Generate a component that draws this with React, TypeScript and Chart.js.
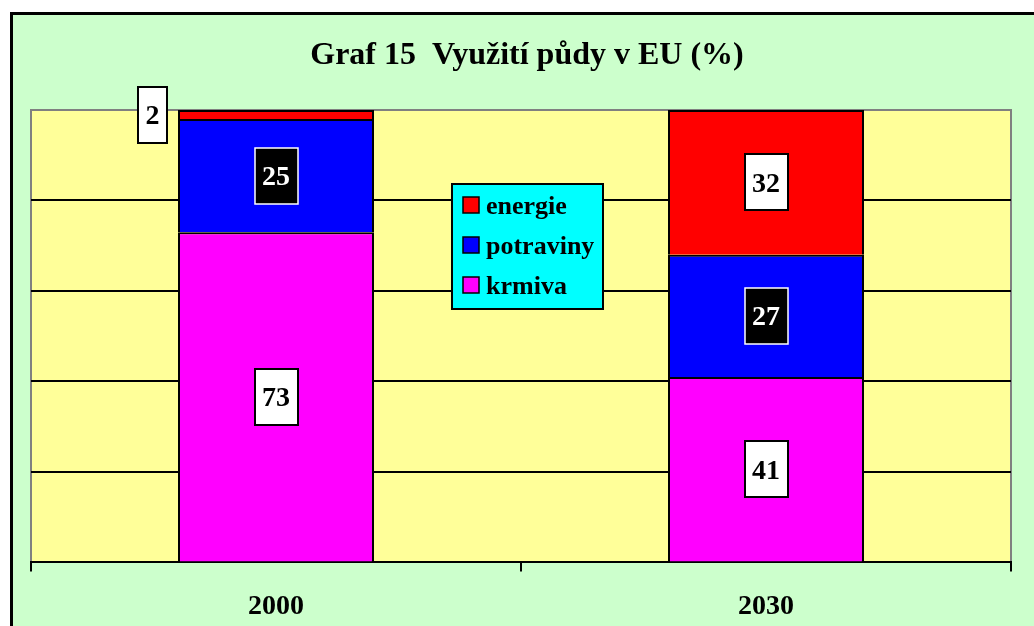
import React, { useEffect, useRef } from "react";
import { Chart, registerables } from "chart.js";

Chart.register(...registerables);

const categories = ["2000", "2030"];
const seriesNames = ["krmiva", "potraviny", "energie"];
const krmiva = [73, 41];
const potraviny = [25, 27];
const energie = [2, 32];
const yTicks = [0, 20, 40, 60, 80, 100];
const titleText = "Graf 15  Využití půdy v EU (%)";

const SERIF = "'Times New Roman', 'Liberation Serif', 'DejaVu Serif', serif";
const seriesColors = ["#FF00FF", "#0000FF", "#FF0000"];
// label box style per series: [fill, stroke, text]
const labelStyles = [
  ["#FFFFFF", "#000000", "#000000"],
  ["#000000", "#FFFFFF", "#FFFFFF"],
  ["#FFFFFF", "#000000", "#000000"],
];

const backgroundPlugin = {
  id: "bgPlugin",
  beforeDraw(chart: any) {
    const ctx = chart.ctx;
    const { width, height } = chart;
    const a = chart.chartArea;
    ctx.save();
    ctx.fillStyle = "#FFFFFF";
    ctx.fillRect(0, 0, width, height);
    ctx.fillStyle = "#000000";
    ctx.fillRect(10, 12, width, height);
    ctx.fillStyle = "#CCFFCC";
    ctx.fillRect(13, 15, width, height);
    ctx.fillStyle = "#FFFF99";
    ctx.fillRect(a.left, a.top, a.right - a.left, a.bottom - a.top);
    ctx.strokeStyle = "#808080";
    ctx.lineWidth = 2;
    ctx.beginPath();
    ctx.moveTo(a.left, a.bottom);
    ctx.lineTo(a.left, a.top);
    ctx.lineTo(a.right, a.top);
    ctx.lineTo(a.right, a.bottom);
    ctx.stroke();
    // title
    ctx.fillStyle = "#000000";
    ctx.font = `bold 32px ${SERIF}`;
    ctx.textAlign = "center";
    ctx.textBaseline = "alphabetic";
    ctx.fillText(titleText, 527, 64);
    ctx.restore();
  },
};

const labelPlugin = {
  id: "labelPlugin",
  afterDatasetsDraw(chart: any) {
    const ctx = chart.ctx;
    ctx.save();
    const fontSize = 28;
    ctx.font = `bold ${fontSize}px ${SERIF}`;
    chart.data.datasets.forEach((ds: any, di: number) => {
      const meta = chart.getDatasetMeta(di);
      const st = labelStyles[di];
      meta.data.forEach((el: any, i: number) => {
        const v = ds.data[i];
        const { x, y, base, width } = el.getProps(["x", "y", "base", "width"], true);
        const cy = (y + base) / 2;
        const txt = String(v);
        const tw = ctx.measureText(txt).width;
        const bw = tw + 15;
        const bh = 56;
        let cx = x;
        if (Math.abs(base - y) < bh * 0.5) {
          cx = x - width / 2 - 11 - bw / 2;
        }
        const bx = Math.round(cx - bw / 2);
        const by = Math.round(cy - bh / 2);
        ctx.fillStyle = st[0];
        ctx.fillRect(bx, by, bw, bh);
        ctx.strokeStyle = st[1];
        ctx.lineWidth = di === 1 ? 1.5 : 2;
        ctx.strokeRect(bx, by, bw, bh);
        ctx.fillStyle = st[2];
        ctx.textAlign = "center";
        ctx.textBaseline = "alphabetic";
        ctx.fillText(txt, cx, cy + fontSize * 0.34);
      });
    });
    ctx.restore();
  },
};

const legendPlugin = {
  id: "customLegend",
  afterDraw(chart: any) {
    const ctx = chart.ctx;
    const a = chart.chartArea;
    const lx = a.left + 421;
    const ly = a.top + 74;
    const lw = 151;
    const lh = 125;
    ctx.save();
    ctx.fillStyle = "#00FFFF";
    ctx.fillRect(lx, ly, lw, lh);
    ctx.strokeStyle = "#000000";
    ctx.lineWidth = 2;
    ctx.strokeRect(lx, ly, lw, lh);
    const items = chart.data.datasets.map((d: any) => d).reverse();
    ctx.font = `bold 26px ${SERIF}`;
    ctx.textAlign = "left";
    ctx.textBaseline = "alphabetic";
    items.forEach((d: any, idx: number) => {
      const rowC = ly + 21 + idx * 40;
      ctx.fillStyle = d.backgroundColor;
      ctx.fillRect(lx + 11, rowC - 8, 16, 16);
      ctx.strokeStyle = "#000000";
      ctx.lineWidth = 1.5;
      ctx.strokeRect(lx + 11, rowC - 8, 16, 16);
      ctx.fillStyle = "#000000";
      ctx.fillText(d.label, lx + 34, rowC + 9);
    });
    ctx.restore();
  },
};

export default function App() {
  const ref = useRef<HTMLCanvasElement>(null);
  useEffect(() => {
    if (!ref.current) return;
    const seriesData = [krmiva, potraviny, energie];
    const chart = new Chart(ref.current, {
      type: "bar",
      data: {
        labels: categories,
        datasets: seriesNames.map((name, i) => ({
          label: name,
          data: seriesData[i],
          backgroundColor: seriesColors[i],
          borderColor: "#000000",
          borderWidth: { top: 2, left: 2, right: 2, bottom: 0 },
          borderSkipped: false,
          barPercentage: 0.5,
          categoryPercentage: 0.8,
        })),
      },
      options: {
        responsive: false,
        animation: false,
        devicePixelRatio: 1,
        layout: { padding: { top: 110, left: 31, right: 23, bottom: -17 } },
        plugins: {
          legend: { display: false },
          title: { display: false },
          tooltip: { enabled: false },
        },
        scales: {
          x: {
            stacked: true,
            grid: {
              drawOnChartArea: false,
              drawTicks: true,
              tickLength: 9,
              color: "#000000",
              lineWidth: 2,
            },
            border: { display: true, color: "#000000", width: 2 },
            ticks: {
              color: "#000000",
              font: { family: SERIF, size: 28, weight: "bold" },
              padding: 19,
              maxRotation: 0,
            },
          },
          y: {
            stacked: true,
            min: yTicks[0],
            max: yTicks[yTicks.length - 1],
            afterBuildTicks: (scale: any) => {
              scale.ticks = yTicks.map((v) => ({ value: v }));
            },
            grid: {
              drawTicks: false,
              color: (c: any) =>
                c.tick && (c.tick.value === 0 || c.tick.value === 100) ? "rgba(0,0,0,0)" : "#000000",
              lineWidth: 2,
            },
            border: { display: false },
            ticks: { display: false },
          },
        },
      },
      plugins: [backgroundPlugin, labelPlugin, legendPlugin],
    } as any);
    return () => chart.destroy();
  }, []);
  return (
    <div style={{ position: "fixed", left: 0, top: 0, width: 1034, height: 626 }}>
      <canvas ref={ref} width={1034} height={626} style={{ display: "block" }} />
    </div>
  );
}
